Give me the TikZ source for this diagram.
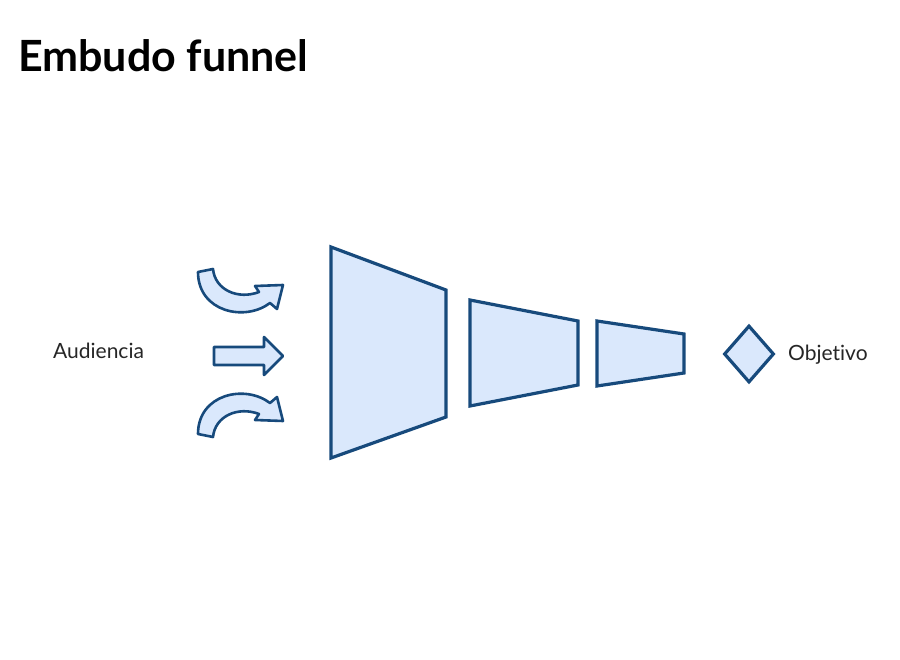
\documentclass[tikz,border=0pt]{standalone}
\usepackage{xcolor}
\usepackage{fontspec}
\setmainfont{Lato}[Ligatures=NoCommon]
\usepackage{tikz}
\usetikzlibrary{shapes.geometric, positioning}

\definecolor{funfill}{HTML}{DAE8FC}
\definecolor{fundraw}{HTML}{174A7C}

\begin{document}
\begin{tikzpicture}[
    x=1pt, y=-1pt,
    stage/.style={draw=fundraw, fill=funfill, line width=3.2pt, line join=miter},
    flow/.style={draw=fundraw, fill=funfill, line width=2.6pt, line join=round},
    label/.style={font=\fontsize{21}{24}\selectfont, text=black!85, inner sep=0pt},
    goal/.style={diamond, draw=fundraw, fill=funfill, line width=3.2pt,
                 minimum width=50pt, minimum height=57pt, inner sep=0pt}
]
\useasboundingbox (0,0) rectangle (900,660);

\node[anchor=west, inner sep=0pt, font=\fontsize{43}{48}\selectfont\bfseries] (title) at (18,56) {Embudo funnel};

\node[label, anchor=west] (audience) at (53,351) {Audiencia};

% arrows coming in
\draw[flow] (198,272) -- (213,269) .. controls (215,290) and (238,300) .. (259,292)
    -- (255,286) -- (283,285) -- (277,309) -- (270,303)
    .. controls (245,322) and (198,312) .. cycle;
\draw[flow] (214,347) -- (264,347) -- (264,337) -- (283,356) -- (264,375) -- (264,365)
    -- (214,365) -- cycle;
\draw[flow] (198,434) -- (213,437) .. controls (215,416) and (238,406) .. (259,414)
    -- (255,420) -- (283,421) -- (277,397) -- (270,403)
    .. controls (245,384) and (198,394) .. cycle;

% funnel stages
\draw[stage] (331,247) -- (446,290) -- (446,417) -- (331,458) -- cycle;
\draw[stage] (470,300) -- (578,321) -- (578,385) -- (470,406) -- cycle;
\draw[stage] (597,321) -- (684,334) -- (684,373) -- (597,386) -- cycle;

\node[goal] (goal) at (749,354) {};
\node[label, anchor=west] (objective) at (788,355) {Objetivo};
\end{tikzpicture}
\end{document}
